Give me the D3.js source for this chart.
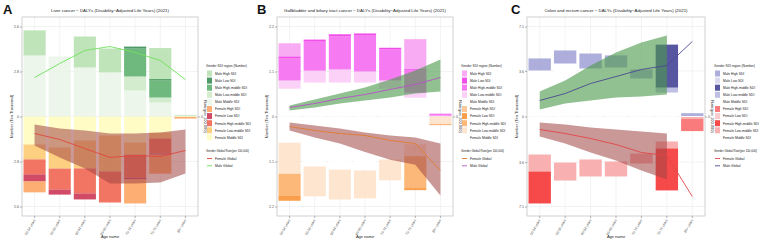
<!DOCTYPE html>
<html>
<head>
<meta charset="utf-8">
<script src="https://cdn.jsdelivr.net/npm/d3@7/dist/d3.min.js"></script>
<style>
  body { margin: 0; background: #fff; }
  text { font-family: "Liberation Sans", Arial, sans-serif; }
</style>
</head>
<body>
<div id="chart"></div>
<script>
// ---- data ----
var ages = ["50-54 years", "55-59 years", "60-64 years", "65-69 years", "70-74 years", "75-79 years", "80+ years"];
// stacking order from zero outwards
var regions = ["Middle", "Low-middle", "High-middle", "Low", "High"];
var legendOrder = ["High", "Low", "High-middle", "Low-middle", "Middle"];

// A: Liver cancer (ten thousand)
var liverTicks = [2.8, 5.6];
var liverMale = [
  [3.80, 3.73, 3.05, 2.74, 1.62, 0.87, 0.00],
  [0.00, 0.00, 0.00, 0.00, 0.87, 0.31, 0.06],
  [0.00, 0.00, 0.00, 0.00, 1.74, 1.06, 0.00],
  [0.00, 0.00, 0.00, 0.00, 0.12, 0.09, 0.00],
  [1.56, 0.00, 1.93, 1.49, 0.00, 1.93, 0.04]
];
var liverFemale = [
  [1.74, 1.93, 1.49, 1.18, 1.62, 1.00, 0.03],
  [0.93, 1.31, 1.74, 2.24, 0.75, 0.37, 0.00],
  [0.93, 1.31, 1.56, 1.93, 1.43, 0.93, 0.00],
  [0.44, 0.31, 0.37, 0.00, 0.12, 0.08, 0.00],
  [0.68, 0.00, 0.00, 0.00, 1.49, 1.18, 0.10]
];
var liverMaleRate = [4.70, 6.39, 7.96, 8.44, 7.72, 6.75, 4.46];
var liverFemaleRate = [-2.05, -2.77, -3.86, -4.94, -4.70, -4.82, -4.10];
var liverFemaleUpper = [-0.96, -1.45, -1.69, -2.05, -2.05, -1.93, -1.57];
var liverFemaleLower = [-3.50, -4.94, -6.27, -8.08, -8.08, -7.96, -6.87];

// B: Gallbladder and biliary tract cancer
var gbTicks = [1.1, 2.2];
var gbMale = [
  [0.68, 0.83, 0.83, 0.83, 0.68, 0.46, 0.00],
  [0.20, 0.29, 0.32, 0.27, 0.20, 0.12, 0.02],
  [0.54, 0.71, 0.81, 0.88, 0.76, 0.56, 0.05],
  [0.05, 0.05, 0.05, 0.05, 0.04, 0.02, 0.00],
  [0.32, 0.00, 0.00, 0.00, 0.00, 0.73, 0.00]
];
var gbFemale = [
  [0.64, 1.22, 1.30, 1.32, 1.05, 0.68, 0.00],
  [0.76, 0.73, 0.73, 0.68, 0.51, 0.29, 0.19],
  [0.54, 0.00, 0.00, 0.00, 0.00, 0.78, 0.00],
  [0.12, 0.00, 0.00, 0.00, 0.00, 0.05, 0.02],
  [0.00, 0.00, 0.00, 0.00, 0.00, 0.00, 0.00]
];
var gbMaleRate = [1.09, 1.57, 2.17, 2.65, 3.26, 3.86, 4.70];
var gbMaleUpper = [1.33, 2.05, 2.77, 3.50, 4.46, 5.55, 6.87];
var gbMaleLower = [0.72, 1.09, 1.57, 1.93, 2.29, 2.77, 3.02];
var gbFemaleRate = [-1.21, -1.69, -2.05, -2.29, -2.89, -3.26, -6.51];
var gbFemaleUpper = [-0.72, -1.09, -1.45, -1.93, -2.29, -2.53, -3.26];
var gbFemaleLower = [-1.69, -2.53, -3.26, -4.27, -5.23, -5.83, -9.53];

// C: Colon and rectum cancer
var crcTicks = [3.6, 7.1];
var crcMale = [
  [3.63, 4.18, 3.79, 3.87, 3.00, 1.89, 0.04],
  [0.00, 0.00, 0.00, 0.00, 0.00, 0.39, 0.00],
  [0.00, 0.00, 0.00, 0.00, 0.00, 3.39, 0.00],
  [0.00, 0.00, 0.00, 0.00, 0.00, 0.00, 0.00],
  [0.95, 1.03, 1.18, 0.95, 0.71, 0.00, 0.22]
];
var crcFemale = [
  [3.00, 3.63, 3.39, 3.55, 2.92, 1.97, 0.04],
  [1.34, 1.42, 1.34, 1.18, 0.79, 0.55, 0.16],
  [2.52, 0.00, 0.00, 0.00, 0.00, 3.31, 0.00],
  [0.00, 0.00, 0.00, 0.00, 0.00, 0.00, 0.00],
  [0.00, 0.00, 0.00, 0.00, 0.00, 0.00, 0.95]
];
var crcMaleRate = [1.93, 2.77, 3.98, 4.82, 5.67, 6.15, 9.05];
var crcMaleUpper = [3.02, 4.34, 6.15, 7.72, 8.92, 9.77, null];
var crcMaleLower = [0.84, 1.57, 1.93, 2.29, 2.41, 2.65, null];
var crcFemaleRate = [-1.57, -2.05, -2.65, -3.38, -4.34, -4.70, -9.65];
var crcFemaleUpper = [-0.72, -0.96, -1.33, -1.57, -1.81, -2.05, null];
var crcFemaleLower = [-2.41, -3.26, -4.34, -5.31, -6.51, -7.60, null];

var rateMax = 12;

// ---- drawing ----
var W = 767, H = 243;
var svg = d3.select("#chart").append("svg")
  .attr("width", W).attr("height", H);

var plotTop = 17, plotBottom = 216;

function drawPanel(o) {
  var g = svg.append("g");

  var x = d3.scaleBand().domain(ages)
    .range([o.left, o.right]).paddingInner(0.12).paddingOuter(0.06);
  var D = o.ticks[1] * (plotBottom - plotTop) / 2 / 90;
  var y = d3.scaleLinear().domain([-D, D]).range([plotBottom, plotTop]);
  var yr = d3.scaleLinear().domain([-rateMax, rateMax]).range([plotBottom, plotTop]);
  var cx = function(i) { return x(ages[i]) + x.bandwidth() / 2; };

  // grid
  var tv = [-o.ticks[1], -o.ticks[0], 0, o.ticks[0], o.ticks[1]];
  g.append("g").selectAll("line").data(tv).enter().append("line")
    .attr("x1", o.left).attr("x2", o.right)
    .attr("y1", d => y(d)).attr("y2", d => y(d))
    .attr("stroke", "#ebebeb").attr("stroke-width", 0.6);
  g.append("g").selectAll("line").data(ages).enter().append("line")
    .attr("x1", d => x(d) + x.bandwidth() / 2).attr("x2", d => x(d) + x.bandwidth() / 2)
    .attr("y1", plotTop).attr("y2", plotBottom)
    .attr("stroke", "#ebebeb").attr("stroke-width", 0.6);

  // stacked bars
  function bars(rows, colors, sign) {
    var table = ages.map(function(a, i) {
      var r = { age: a };
      regions.forEach(function(k, j) { r[k] = rows[j][i]; });
      return r;
    });
    var series = d3.stack().keys(regions)(table);
    series.forEach(function(s) {
      g.append("g").selectAll("rect").data(s).enter().append("rect")
        .attr("x", d => x(d.data.age))
        .attr("width", x.bandwidth())
        .attr("y", d => sign > 0 ? y(d[1]) : y(-d[0]))
        .attr("height", d => Math.abs(y(d[1]) - y(d[0])))
        .attr("fill", colors[s.key])
        .attr("fill-opacity", 0.85);
    });
  }
  bars(o.male, o.maleColors, 1);
  bars(o.female, o.femaleColors, -1);

  // uncertainty bands
  function band(lo, hi, color, op) {
    var idx = d3.range(ages.length);
    var area = d3.area()
      .defined(i => lo[i] != null && hi[i] != null)
      .x(i => cx(i))
      .y0(i => yr(lo[i]))
      .y1(i => yr(hi[i]));
    g.append("path").datum(idx).attr("d", area)
      .attr("fill", color).attr("fill-opacity", op);
  }
  if (o.maleUpper) band(o.maleLower, o.maleUpper, "#4e9a4e", 0.62);
  if (o.femaleUpper) band(o.femaleLower, o.femaleUpper, "#a04444", 0.55);

  // rate lines
  var line = d3.line().x((d, i) => cx(i)).y(d => yr(d));
  g.append("path").datum(o.femaleRate).attr("d", line)
    .attr("fill", "none").attr("stroke", o.femaleLine).attr("stroke-width", 0.9);
  g.append("path").datum(o.maleRate).attr("d", line)
    .attr("fill", "none").attr("stroke", o.maleLine).attr("stroke-width", 0.9);

  // frame
  g.append("rect").attr("x", o.left).attr("y", plotTop)
    .attr("width", o.right - o.left).attr("height", plotBottom - plotTop)
    .attr("fill", "none").attr("stroke", "#bcbcbc").attr("stroke-width", 0.7);

  // axes
  var fmt = d3.format(".1f");
  var ay = g.append("g").attr("transform", "translate(" + o.left + ",0)")
    .call(d3.axisLeft(y).tickValues(tv).tickSize(2).tickPadding(1)
      .tickFormat(d => d === 0 ? "0" : fmt(Math.abs(d))));
  ay.select(".domain").remove();
  ay.selectAll("line").attr("stroke", "#666").attr("stroke-width", 0.5);
  ay.selectAll("text").attr("font-size", 3.6).attr("fill", "#555");

  var ar = g.append("g").attr("transform", "translate(" + o.right + ",0)")
    .call(d3.axisRight(yr).tickValues([0]).tickSize(2).tickPadding(1));
  ar.select(".domain").remove();
  ar.selectAll("line").attr("stroke", "#666").attr("stroke-width", 0.5);
  ar.selectAll("text").attr("font-size", 3.6).attr("fill", "#555")
    .attr("dy", "0.32em");

  var ax = g.append("g").attr("transform", "translate(0," + plotBottom + ")")
    .call(d3.axisBottom(x).tickSize(2).tickPadding(1));
  ax.select(".domain").remove();
  ax.selectAll("line").attr("stroke", "#666").attr("stroke-width", 0.5);
  ax.selectAll("text").attr("font-size", 3.4).attr("fill", "#555")
    .attr("text-anchor", "end").attr("dy", 0).attr("y", 0)
    .attr("transform", "translate(1,4) rotate(-60)");

  // titles
  g.append("text").attr("x", o.letterX).attr("y", 14)
    .attr("font-size", 13).attr("font-weight", "bold").attr("fill", "#111").text(o.letter);
  g.append("text").attr("x", (o.left + o.right) / 2).attr("y", 12)
    .attr("text-anchor", "middle").attr("font-size", 4.4).attr("fill", "#222").text(o.title);
  g.append("text").attr("x", (o.left + o.right) / 2).attr("y", 238)
    .attr("text-anchor", "middle").attr("font-size", 4).attr("fill", "#222").text("Age name");
  g.append("text")
    .attr("transform", "translate(" + (o.left - 9) + "," + ((plotTop + plotBottom) / 2) + ") rotate(-90)")
    .attr("text-anchor", "middle").attr("font-size", 4).attr("fill", "#222")
    .text("Number (Ten Thousand)");
  g.append("text")
    .attr("transform", "translate(" + (o.right + 6) + "," + ((plotTop + plotBottom) / 2) + ") rotate(90)")
    .attr("text-anchor", "middle").attr("font-size", 4).attr("fill", "#222")
    .text("Rate(per 100,000)");

  // legend
  var lx = o.legendX;
  var lg = g.append("g").attr("font-size", 3.3).attr("fill", "#222");
  lg.append("text").attr("x", lx).attr("y", 67).attr("font-size", 3.2)
    .text("Gender SDI region (Number)");
  var items = legendOrder.map(k => ({ label: "Male " + k + " SDI", color: o.maleColors[k] }))
    .concat(legendOrder.map(k => ({ label: "Female " + k + " SDI", color: o.femaleColors[k] })));
  items.forEach(function(it, i) {
    var yy = 70.5 + i * 7.1;
    lg.append("rect").attr("x", lx + 1).attr("y", yy).attr("width", 5).attr("height", 6)
      .attr("fill", it.color).attr("fill-opacity", 0.85);
    lg.append("text").attr("x", lx + 9).attr("y", yy + 4.3).text(it.label);
  });
  lg.append("text").attr("x", lx).attr("y", 152).attr("font-size", 2.9)
    .text("Gender Global Rate(per 100,000)");
  [["Female Global", o.femaleLine], ["Male Global", o.maleLine]].forEach(function(it, i) {
    var yy = 158.5 + i * 7.3;
    lg.append("line").attr("x1", lx + 1).attr("x2", lx + 6).attr("y1", yy).attr("y2", yy)
      .attr("stroke", it[1]).attr("stroke-width", 0.9);
    lg.append("text").attr("x", lx + 9).attr("y", yy + 1.3).text(it[0]);
  });
}

drawPanel({
  letter: "A", letterX: 3, left: 22, right: 198, legendX: 206,
  title: "Liver cancer \u2212 DALYs (Disability\u2212Adjusted Life Years) (2021)",
  ticks: liverTicks, male: liverMale, female: liverFemale,
  maleColors: { "High": "#b5dfae", "Low": "#2e874c", "High-middle": "#57ad67", "Low-middle": "#cbe9c5", "Middle": "#e9f5e6" },
  femaleColors: { "High": "#fca05a", "Low": "#c92a4b", "High-middle": "#f05d48", "Low-middle": "#fdc76a", "Middle": "#fffbbb" },
  maleRate: liverMaleRate, femaleRate: liverFemaleRate,
  femaleUpper: liverFemaleUpper, femaleLower: liverFemaleLower,
  maleLine: "#6fe05c", femaleLine: "#e0473c"
});

drawPanel({
  letter: "B", letterX: 257, left: 277, right: 453, legendX: 461,
  title: "Gallbladder and biliary tract cancer \u2212 DALYs (Disability\u2212Adjusted Life Years) (2021)",
  ticks: gbTicks, male: gbMale, female: gbFemale,
  maleColors: { "High": "#f79cf0", "Low": "#ef2fe6", "High-middle": "#f463ee", "Low-middle": "#fbc9f7", "Middle": "#ffffff" },
  femaleColors: { "High": "#fdbf88", "Low": "#f98d2c", "High-middle": "#fcab62", "Low-middle": "#fde1c8", "Middle": "#ffffff" },
  maleRate: gbMaleRate, femaleRate: gbFemaleRate,
  maleUpper: gbMaleUpper, maleLower: gbMaleLower,
  femaleUpper: gbFemaleUpper, femaleLower: gbFemaleLower,
  maleLine: "#b552c6", femaleLine: "#e07a2c"
});

drawPanel({
  letter: "C", letterX: 511, left: 527, right: 705, legendX: 714,
  title: "Colon and rectum cancer \u2212 DALYs (Disability\u2212Adjusted Life Years) (2021)",
  ticks: crcTicks, male: crcMale, female: crcFemale,
  maleColors: { "High": "#a0a0d6", "Low": "#d4d4ec", "High-middle": "#383890", "Low-middle": "#b4b4de", "Middle": "#ffffff" },
  femaleColors: { "High": "#f86464", "Low": "#f8c4c4", "High-middle": "#f42a2a", "Low-middle": "#f8a2a2", "Middle": "#ffffff" },
  maleRate: crcMaleRate, femaleRate: crcFemaleRate,
  maleUpper: crcMaleUpper, maleLower: crcMaleLower,
  femaleUpper: crcFemaleUpper, femaleLower: crcFemaleLower,
  maleLine: "#4a4a92", femaleLine: "#e04646"
});
</script>
</body>
</html>
